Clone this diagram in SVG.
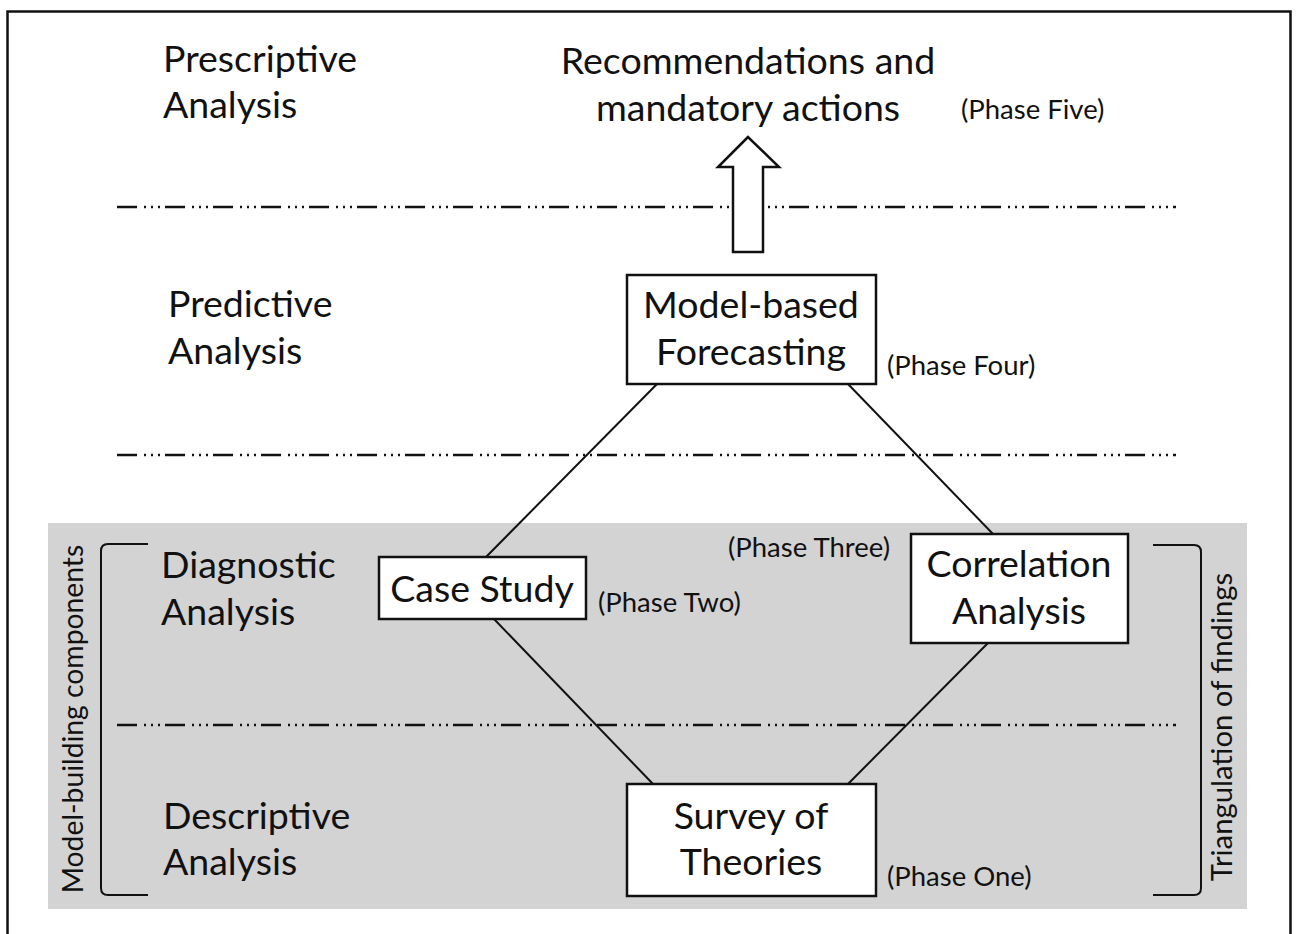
<svg xmlns="http://www.w3.org/2000/svg" width="1297" height="934" viewBox="0 0 1297 934">
<style>
.t{font-family:Lato,"Open Sans",sans-serif;font-size:37.5px;fill:#111}
.c{text-anchor:middle}
.p{font-family:Lato,"Open Sans",sans-serif;font-size:27.5px;fill:#111}
.box{fill:#fff;stroke:#111;stroke-width:2.5}
.dd{stroke:#111;stroke-width:2.5;fill:none;stroke-dasharray:20 7 2 5 2 5 2 5}
.ln{stroke:#111;stroke-width:2;fill:none}
</style>
<rect x="0" y="0" width="1297" height="934" fill="#fff"/>
<rect x="7.5" y="11.5" width="1283" height="940" fill="none" stroke="#111" stroke-width="2.5"/>
<rect x="48" y="523" width="1199" height="386" fill="#d3d3d3"/>
<g id="separators">
<line class="dd" x1="117" y1="207" x2="1176" y2="207"/>
<line class="dd" x1="117" y1="455" x2="1176" y2="455"/>
<line class="dd" x1="117" y1="725" x2="1176" y2="725"/>
</g>
<g id="levels">
<text class="t" x="163" y="72">Prescriptive</text>
<text class="t" x="163" y="118">Analysis</text>
<text class="t" x="168" y="317">Predictive</text>
<text class="t" x="168" y="364">Analysis</text>
<text class="t" x="161" y="578">Diagnostic</text>
<text class="t" x="161" y="625">Analysis</text>
<text class="t" x="163" y="829">Descriptive</text>
<text class="t" x="163" y="875">Analysis</text>
</g>
<g id="brackets">
<path class="ln" d="M148 544 H108 Q101 544 101 551 V888 Q101 895 108 895 H148"/>
<path class="ln" d="M1153 545 H1194 Q1201 545 1201 552 V888 Q1201 895 1194 895 H1153"/>
<text class="p" transform="translate(83 719) rotate(-90)" text-anchor="middle" style="font-size:28.3px">Model-building components</text>
<text class="p" transform="translate(1232 727) rotate(-90)" text-anchor="middle" style="font-size:29.3px">Triangulation of findings</text>
</g>
<g id="connectors">
<line class="ln" x1="657" y1="384" x2="486" y2="557"/>
<line class="ln" x1="848" y1="384" x2="993" y2="534"/>
<line class="ln" x1="494" y1="619" x2="653" y2="784"/>
<line class="ln" x1="988" y1="643" x2="848" y2="784"/>
<polygon points="748,137 718,167 733,167 733,252 763,252 763,167 779,167" fill="#fff" stroke="#111" stroke-width="2.5"/>
</g>
<g id="phase5">
<text class="t c" x="748" y="74">Recommendations and</text>
<text class="t c" x="748" y="121">mandatory actions</text>
<text class="p" x="961" y="119">(Phase Five)</text>
</g>
<g id="phase4">
<rect class="box" x="627" y="275" width="249" height="109"/>
<text class="t c" x="751" y="318">Model-based</text>
<text class="t c" x="751" y="365">Forecasting</text>
<text class="p" x="887" y="375">(Phase Four)</text>
</g>
<g id="phase2">
<rect class="box" x="379" y="557" width="207" height="62"/>
<text class="t c" x="482" y="602">Case Study</text>
<text class="p" x="598" y="612">(Phase Two)</text>
</g>
<g id="phase3">
<rect class="box" x="911" y="534" width="217" height="109"/>
<text class="t c" x="1019" y="577">Correlation</text>
<text class="t c" x="1019" y="624">Analysis</text>
<text class="p" x="728" y="557">(Phase Three)</text>
</g>
<g id="phase1">
<rect class="box" x="627" y="784" width="249" height="112"/>
<text class="t c" x="751" y="829">Survey of</text>
<text class="t c" x="751" y="875">Theories</text>
<text class="p" x="887" y="886">(Phase One)</text>
</g>
</svg>
